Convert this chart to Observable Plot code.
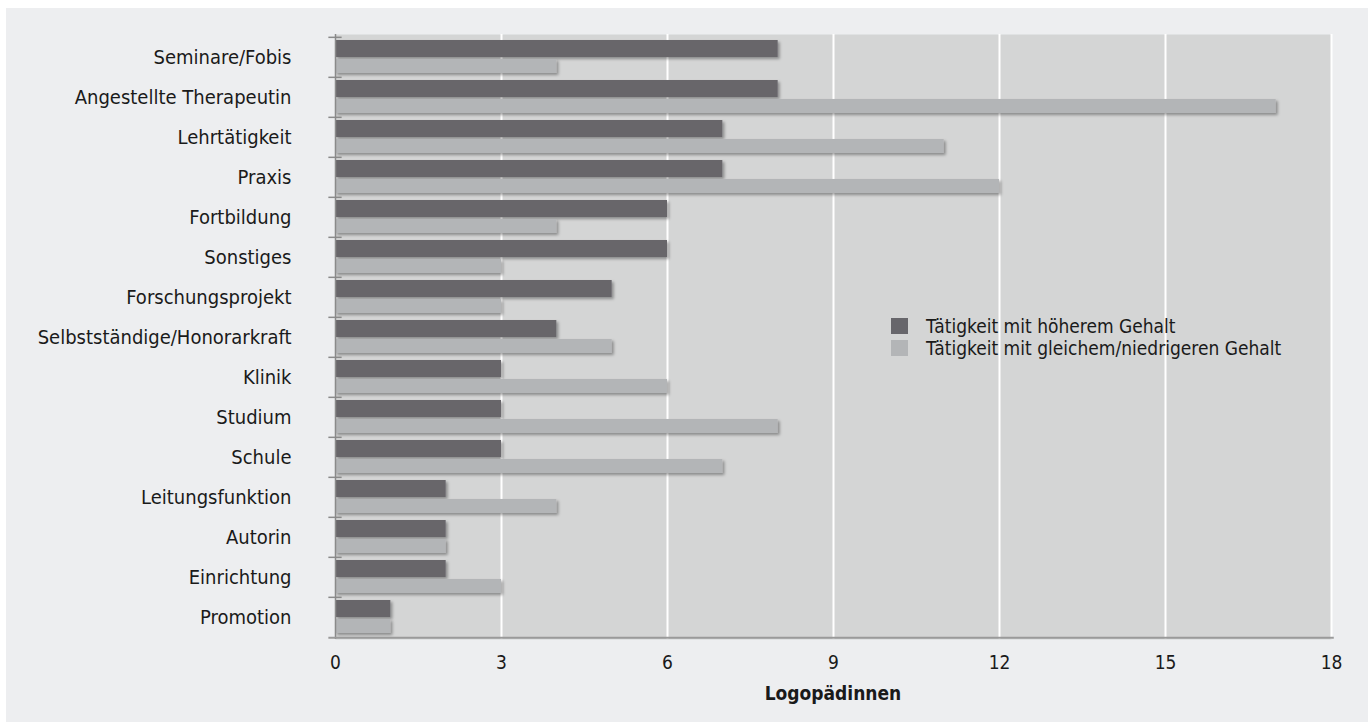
<!DOCTYPE html>
<html>
<head>
<meta charset="utf-8">
<script src="https://cdn.jsdelivr.net/npm/d3@7"></script>
<script src="https://cdn.jsdelivr.net/npm/@observablehq/plot@0.6"></script>
<style>
  html, body { margin: 0; padding: 0; background: #ffffff; }
  #wrap { position: relative; width: 1368px; height: 722px; overflow: hidden; }
  #bg { position: absolute; left: 6px; top: 8px; right: 0; bottom: 0; background: #edeef0; }
  #chart { position: absolute; left: 0; top: 0; }
  #legend { position: absolute; left: 891px; top: 315px; font-family: "DejaVu Sans Condensed", "Liberation Sans", sans-serif; font-size: 19px; color: #1a1a1a; line-height: 22px; }
  #legend .row { display: flex; align-items: center; }
  #legend .sw { width: 17px; height: 16px; margin-right: 18px; }
  #xlabel { position: absolute; left: 335px; width: 996px; top: 682px; text-align: center; font-family: "DejaVu Sans Condensed", "Liberation Sans", sans-serif; font-weight: bold; font-size: 19px; color: #1a1a1a; }
</style>
</head>
<body>
<div id="wrap">
  <div id="bg"></div>
  <div id="chart"></div>
  <div id="legend"></div>
  <div id="xlabel"></div>
</div>
<script>
const categories = ["Seminare/Fobis","Angestellte Therapeutin","Lehrtätigkeit","Praxis","Fortbildung","Sonstiges","Forschungsprojekt","Selbstständige/Honorarkraft","Klinik","Studium","Schule","Leitungsfunktion","Autorin","Einrichtung","Promotion"];
const higher = [8,8,7,7,6,6,5,4,3,3,3,2,2,2,1];
const sameOrLower = [4,17,11,12,4,3,3,5,6,8,7,4,2,3,1];
const seriesNames = ["Tätigkeit mit höherem Gehalt","Tätigkeit mit gleichem/niedrigeren Gehalt"];
const seriesColors = ["#67666b","#b3b5b7"];
const xTicks = [0,3,6,9,12,15,18];
const gridTicks = [3,6,9,12,15,18];
const xTitle = "Logopädinnen";

const dataA = categories.map((c,i) => ({cat: c, v: higher[i]}));
const dataB = categories.map((c,i) => ({cat: c, v: sameOrLower[i]}));

const W = 1368, H = 722;
const mL = 335, mR = 37, mT = 34, mB = 83;
const band = (H - mT - mB) / categories.length;
const font = '"DejaVu Sans Condensed", "Liberation Sans", sans-serif';

const chart = Plot.plot({
  width: W, height: H,
  marginLeft: mL, marginRight: mR, marginTop: mT, marginBottom: mB,
  style: {background: "transparent", fontFamily: font, fontSize: "19px", color: "#1a1a1a"},
  x: {domain: [0,18], ticks: xTicks},
  y: {domain: categories, padding: 0},
  marks: [
    Plot.frame({fill: "#d4d5d5", stroke: null}),
    Plot.ruleX(gridTicks, {stroke: "#ffffff", strokeWidth: 2}),
    Plot.barX(dataA, {y: "cat", x: "v", fill: seriesColors[0], insetTop: 3, insetBottom: 20, className: "shadowbar"}),
    Plot.barX(dataB, {y: "cat", x: "v", fill: seriesColors[1], insetTop: 22, insetBottom: 4, className: "shadowbar"}),
    Plot.ruleX([0], {stroke: "#8a8a8a", strokeWidth: 1.5}),
    Plot.ruleY(categories, {y: d => d, dy: -band/2, x1: -0.12, x2: 0.12, stroke: "#8a8a8a", strokeWidth: 1.5}),
    Plot.ruleY([categories[categories.length-1]], {y: d => d, dy: band/2, x1: -0.12, x2: 18.05, stroke: "#9a9a9a", strokeWidth: 2}),
    Plot.axisX({ticks: xTicks, tickSize: 0, tickPadding: 16, label: null, fontSize: 19}),
    Plot.axisY({tickSize: 0, tickPadding: 44, label: null, fontSize: 20})
  ]
});

const svg = d3.select(chart);
const defs = svg.insert("defs", ":first-child");
const f = defs.append("filter").attr("id","barShadow").attr("x","-5%").attr("y","-30%").attr("width","115%").attr("height","180%");
f.append("feDropShadow").attr("dx",2).attr("dy",2).attr("stdDeviation",1.8).attr("flood-color","#000").attr("flood-opacity",0.35);
svg.selectAll(".shadowbar").attr("filter","url(#barShadow)");

document.getElementById("chart").appendChild(chart);

const legend = d3.select("#legend");
seriesNames.forEach((name,i) => {
  const row = legend.append("div").attr("class","row");
  row.append("div").attr("class","sw").style("background", seriesColors[i]);
  row.append("span").text(name);
});
document.getElementById("xlabel").textContent = xTitle;
</script>
</body>
</html>
